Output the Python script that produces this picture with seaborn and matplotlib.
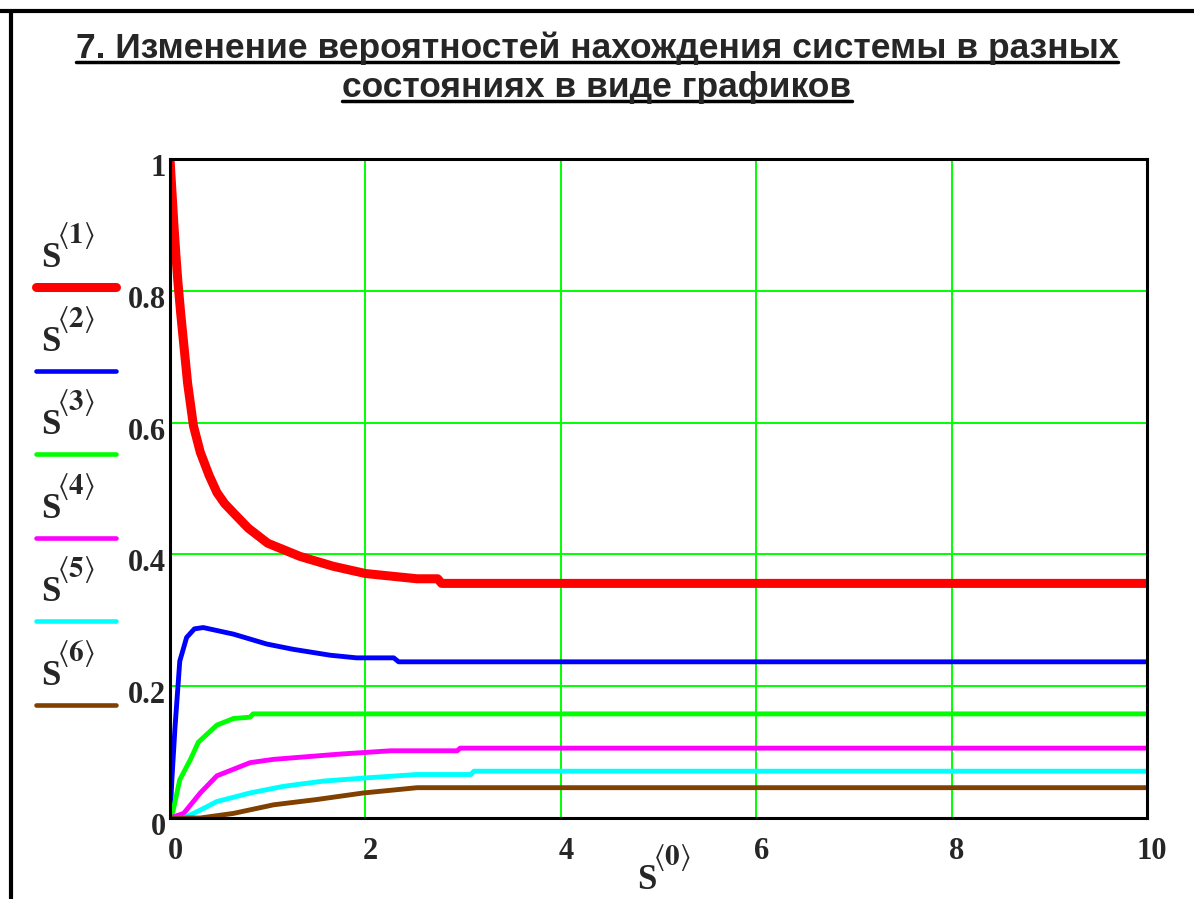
import matplotlib
matplotlib.use("Agg")
import matplotlib.pyplot as plt
import matplotlib.transforms as mtransforms
from matplotlib.lines import Line2D
import seaborn as sns

# data
title_lines = ["7. Изменение вероятностей нахождения системы в разных",
               "состояниях в виде графиков"]

t1 = [0, 0.02, 0.04, 0.06, 0.08, 0.11, 0.14, 0.18, 0.24, 0.31, 0.40, 0.48, 0.56, 0.65, 0.80,
      1.0, 1.33, 1.67, 2.0, 2.53, 2.74, 2.78, 10]
s1 = [1.0, 0.95, 0.9, 0.855, 0.815, 0.765, 0.72, 0.66, 0.595, 0.555, 0.52, 0.494, 0.477, 0.463, 0.44,
      0.417, 0.397, 0.382, 0.371, 0.363, 0.363, 0.356, 0.356]

t2 = [0, 0.02, 0.05, 0.10, 0.17, 0.25, 0.34, 0.65, 0.99, 1.26, 1.64, 1.91, 2.29, 2.34, 10]
s2 = [0, 0.06, 0.135, 0.238, 0.274, 0.287, 0.289, 0.279, 0.264, 0.256, 0.247, 0.243, 0.243, 0.237, 0.237]

t3 = [0, 0.03, 0.10, 0.21, 0.29, 0.48, 0.65, 0.82, 0.85, 10]
s3 = [0, 0.01, 0.058, 0.089, 0.115, 0.141, 0.151, 0.153, 0.158, 0.158]

t4 = [0, 0.14, 0.31, 0.48, 0.65, 0.82, 1.06, 1.74, 2.26, 2.94, 2.97, 10]
s4 = [0, 0.007, 0.038, 0.064, 0.074, 0.084, 0.089, 0.097, 0.102, 0.102, 0.106, 0.106]

t5 = [0, 0.14, 0.31, 0.48, 0.82, 1.16, 1.57, 2.02, 2.53, 3.08, 3.11, 10]
s5 = [0, 0.0, 0.012, 0.025, 0.038, 0.048, 0.056, 0.061, 0.066, 0.066, 0.071, 0.071]

t6 = [0, 0.31, 0.65, 1.06, 1.5, 1.98, 2.53, 10]
s6 = [0, 0.0, 0.007, 0.02, 0.028, 0.038, 0.046, 0.046]

series = [(t1, s1), (t2, s2), (t3, s3), (t4, s4), (t5, s5), (t6, s6)]
legend_index = ["1", "2", "3", "4", "5", "6"]
x_index = "0"
colors = ["#ff0000", "#0000ff", "#00ff00", "#ff00ff", "#00ffff", "#804000"]
widths = [6.5, 3.5, 3.5, 3.5, 3.5, 3.5]

x_ticks = [0, 2, 4, 6, 8, 10]
y_ticks = [0, 0.2, 0.4, 0.6, 0.8, 1.0]
y_tick_labels = ["0", "0.2", "0.4", "0.6", "0.8", "1"]

sns.set_style("white")
plt.rcParams["mathtext.fontset"] = "stix"

W, H = 1194, 899
fig = plt.figure(figsize=(W / 100, H / 100), dpi=100)
ax = fig.add_axes([170 / W, (H - 818) / H, 977 / W, 659 / H])

for (t, s), c, lw in zip(series, colors, widths):
    sns.lineplot(x=t, y=s, ax=ax, color=c, linewidth=lw, estimator=None, sort=False)

ax.set_xlim(0, 10)
ax.set_ylim(0, 1)
ax.set_xticks(x_ticks)
ax.set_yticks(y_ticks)
ax.set_xticklabels([str(v) for v in x_ticks])
ax.set_yticklabels(y_tick_labels)
ax.grid(True, color="#00ff00", linewidth=1.4)
ax.set_axisbelow(True)
for sp in ax.spines.values():
    sp.set_visible(True)
    sp.set_color("black")
    sp.set_linewidth(2.2)
ax.tick_params(axis="x", length=0, pad=14)
ax.tick_params(axis="y", length=0, pad=3)
for lab in ax.get_xticklabels() + ax.get_yticklabels():
    lab.set_fontfamily("Liberation Serif")
    lab.set_fontweight("bold")
    lab.set_fontsize(22)
# labels on the y axis sit a little below their grid lines
off = mtransforms.ScaledTranslation(0, -6 / 100, fig.dpi_scale_trans)
for lab in ax.get_yticklabels():
    lab.set_transform(lab.get_transform() + off)
off_x = mtransforms.ScaledTranslation(5 / 100, 0, fig.dpi_scale_trans)
for lab in ax.get_xticklabels():
    lab.set_transform(lab.get_transform() + off_x)


def s_label(x_px, base_px, idx):
    # "S" with a raised <idx>, Mathcad style
    fig.text(x_px / W, 1 - base_px / H, "S", fontsize=25, fontweight="bold",
             family="Liberation Serif", ha="left", va="baseline")
    fig.text((x_px + 16) / W, 1 - (base_px - 24) / H,
             r"$\langle\mathbf{%s}\rangle$" % idx, fontsize=21, ha="left", va="baseline")


# legend in the left margin: label above a short line
for i, (idx, c, lw) in enumerate(zip(legend_index, colors, widths)):
    yl = 287 + 83.6 * i
    s_label(41, yl - 20, idx)
    fig.add_artist(Line2D([36 / W, 116 / W], [1 - yl / H, 1 - yl / H],
                          color=c, linewidth=6.5 if i == 0 else 3.3,
                          solid_capstyle="round"))

# x axis label
s_label(637, 889, x_index)

# title with underline
title_font = ["Liberation Sans Narrow", "Liberation Sans", "DejaVu Sans"]
texts = []
for line, yb in zip(title_lines, [58, 97]):
    tx = fig.text(0.5, 1 - yb / H, line, fontsize=25.5, fontweight="bold",
                  family=title_font, ha="center", va="baseline")
    texts.append((tx, yb))
fig.canvas.draw()
for tx, yb in texts:
    bb = tx.get_window_extent()
    yu = 1 - (yb + 4) / H
    fig.add_artist(Line2D([bb.x0 / W, bb.x1 / W], [yu, yu], color="black", linewidth=2.5))

# frame of the worksheet region
fig.add_artist(Line2D([0, 1], [1 - 11 / H, 1 - 11 / H], color="black", linewidth=3))
fig.add_artist(Line2D([11 / W, 11 / W], [0, 1 - 11 / H], color="black", linewidth=3))

fig.savefig("out.png", dpi=100)
